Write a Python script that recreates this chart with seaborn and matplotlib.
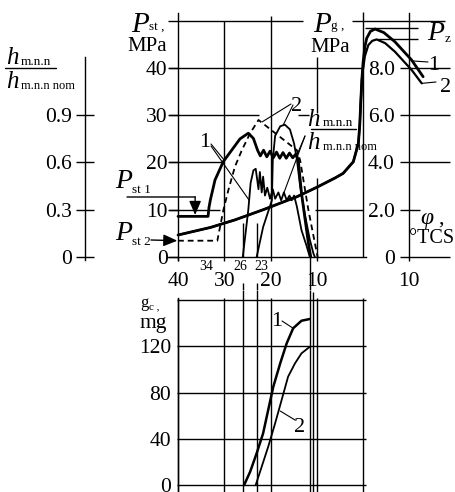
import numpy as np
import pandas as pd
import seaborn as sns
import matplotlib
matplotlib.use("Agg")
import matplotlib.pyplot as plt
from matplotlib.lines import Line2D

# ---------------- data (phi = crank angle, deg before TDC; negative = after TDC) ----------------
phi_pst1 = [40.0, 33.5, 33.3, 33.0, 32.0, 30.2, 28.4, 26.6, 24.8, 23.7, 22.8, 22.2, 21.5, 20.8,
            20.1, 19.4, 18.7, 18.0, 17.3, 16.6, 15.9, 15.2, 14.5, 14.0, 13.3, 12.5, 11.8, 11.3]
pst1 = [8.6, 8.6, 10.5, 12.1, 16.3, 20.2, 22.6, 25.0, 26.2, 25.1, 22.6, 21.4, 22.6, 21.2,
        22.4, 21.0, 22.2, 20.9, 22.1, 20.9, 22.0, 21.0, 21.8, 20.5, 13.5, 7.8, 2.9, 0.0]

phi_pst2 = [40.0, 31.5, 30.2, 29.1, 27.7, 26.2, 24.4, 22.6, 14.3, 13.6, 11.8, 10.4, 9.8]
pst2 = [3.45, 3.45, 9.9, 14.2, 19.1, 22.6, 26.2, 29.0, 22.6, 20.5, 9.9, 2.9, 0.0]

phi_h1 = [26.0, 24.8, 24.3, 23.7, 23.2, 22.6, 22.3, 21.9, 21.6, 21.2, 20.7, 20.1, 19.5,
          19.0, 18.3, 17.7, 17.1, 16.5, 15.9, 15.4, 14.9, 14.3, 13.3, 12.2, 11.7, 11.5]
h1 = [0.0, 0.30, 0.47, 0.55, 0.56, 0.43, 0.54, 0.41, 0.51, 0.39, 0.44, 0.37, 0.43,
      0.37, 0.41, 0.36, 0.41, 0.36, 0.39, 0.36, 0.39, 0.32, 0.17, 0.07, 0.02, 0.0]

phi_h2 = [23.0, 21.6, 19.7, 19.5, 19.0, 17.9, 16.9, 15.8, 14.9, 14.3, 13.6, 12.5, 11.5, 10.7, 10.4]
h2 = [0.0, 0.19, 0.36, 0.62, 0.77, 0.83, 0.84, 0.81, 0.72, 0.62, 0.45, 0.26, 0.11, 0.02, 0.0]

phi_pg1 = [40.0, 33.0, 27.7, 21.6, 14.3, 10.0, 6.0, 4.3, 2.1, 1.0, 0.7, 0.5, 0.25,
           0.0, -0.4, -0.8, -1.6, -2.6, -4.5, -6.9, -10.5, -13.0]
pg1 = [0.93, 1.25, 1.57, 2.0, 2.55, 2.95, 3.35, 3.54, 4.03, 4.81, 5.6, 6.5, 7.5,
       8.2, 8.9, 9.26, 9.55, 9.65, 9.5, 9.11, 8.34, 7.63]
phi_pg2 = [40.0, 33.0, 27.7, 21.6, 14.3, 10.0, 6.0, 4.3, 2.1, 1.0, 0.7, 0.5, 0.25,
           0.1, -0.4, -1.15, -2.0, -2.96, -4.8, -6.9, -10.5, -12.7]
pg2 = [0.93, 1.25, 1.57, 2.0, 2.55, 2.95, 3.35, 3.54, 4.03, 4.81, 5.6, 6.5, 7.5,
       7.8, 8.5, 8.97, 9.15, 9.21, 9.05, 8.69, 7.92, 7.35]
pz1, pz2 = 9.71, 9.21

phi_gc1 = [25.7, 24.4, 23.0, 21.6, 20.5, 19.4, 17.9, 16.5, 15.1, 13.3, 11.5]
gc1 = [0.0, 11.5, 27.4, 44.7, 64.9, 85.0, 105.3, 122.6, 135.6, 142.1, 143.6]
phi_gc2 = [23.2, 21.9, 20.5, 19.0, 17.6, 16.2, 14.7, 13.3, 11.5]
gc2 = [0.0, 15.9, 33.1, 53.4, 73.5, 93.7, 105.3, 113.9, 119.6]

phi_marks = [34, 26, 23]
phi_inj_end = [11.5, 10.9]

pst_ticks = [0, 10, 20, 30, 40]
pg_ticks = [0, 2, 4, 6, 8]
pg_labels = ["0", "2.0", "4.0", "6.0", "8.0"]
h_ticks = [0, 0.3, 0.6, 0.9]
h_labels = ["0", "0.3", "0.6", "0.9"]
gc_ticks = [0, 40, 80, 120]
gc_grid = [0, 40, 80, 120, 160]
phi_ticks = [40, 30, 20, 10, -10]
phi_labels = ["40", "30", "20", "10", "10"]
phi_grid = [40, 30, 20, 10, 0]

# ---------------- style ----------------
sns.set_theme(style="ticks", rc={"axes.edgecolor": "black", "xtick.color": "black",
                                 "ytick.color": "black", "text.color": "black"})
SERIF = ["Liberation Serif", "DejaVu Serif"]
plt.rcParams["font.family"] = SERIF
FS = 15.5
K = "black"
GLW = 1.0

W, H = 455, 492
fig = plt.figure(figsize=(W / 100, H / 100), dpi=100)
fig.patch.set_facecolor("white")
SPLIT = 290
XL = (78.49, -19.89)

ax = fig.add_axes([0, (H - SPLIT) / H, 1, SPLIT / H])
ax.set_facecolor("none")
PL = (-6.984, 54.39)
ax2 = ax.twinx()
ax3 = ax.twinx()
bx = fig.add_axes([0, 0, 1, (H - SPLIT) / H])
bx.set_facecolor("none")

def curve(a, xs, ys, lw, dashed=False):
    sns.lineplot(x=np.array(xs), y=np.array(ys), ax=a, sort=False, estimator=None,
                 color=K, linewidth=lw, legend=False)
    ln = a.get_lines()[-1]
    ln.set_solid_joinstyle("round")
    if dashed:
        ln.set_dashes([3.2, 2.2])

# ---------------- top panel curves ----------------
curve(ax, phi_pst1, pst1, 2.0)
curve(ax, phi_pst2, pst2, 1.3, dashed=True)
curve(ax3, phi_h1, h1, 1.3)
curve(ax3, phi_h2, h2, 1.3)
curve(ax2, phi_pg1, pg1, 2.0)
curve(ax2, phi_pg2, pg2, 1.6)

for a in (ax, ax2, ax3, bx):
    a.set_xlim(*XL)
    a.set_xlabel(""); a.set_ylabel("")
ax.set_ylim(*PL)
ax2.set_ylim(PL[0] / 5, PL[1] / 5)
ax3.set_ylim(PL[0] * 0.03, PL[1] * 0.03)
bx.set_ylim(-6.055, 168.69)

# grid of the upper panel
ax.hlines(50, 42.1, 12.9, color=K, lw=GLW)
ax.hlines(50, 2.3, -17.7, color=K, lw=GLW)
ax.hlines(40, 42.1, 0, color=K, lw=GLW)
ax.hlines(30, 42.1, 22.4, color=K, lw=GLW)
ax.hlines(30, 14.0, 11.6, color=K, lw=GLW)
ax.hlines(20, 42.1, 30, color=K, lw=GLW)
ax.hlines(10, 42.1, 31, color=K, lw=GLW)
ax.hlines(10, 10.4, 0, color=K, lw=GLW)
ax.vlines(30, 0, 50, color=K, lw=GLW)
ax.vlines(20, 0, 51, color=K, lw=GLW)
ax.vlines(10, 30.5, 42.3, color=K, lw=GLW)
ax.vlines(10, 0, 16.7, color=K, lw=GLW)
ax.vlines(0, 0, 51.8, color=K, lw=GLW)
ax.vlines(phi_marks[1:], 0, 7.2, color=K, lw=GLW)
ax.vlines(phi_marks[1:], PL[0], -5.5, color=K, lw=GLW)
ax.vlines(phi_inj_end[0], PL[0], 0, color=K, lw=GLW)
ax2.hlines([0, 4, 6, 8], -8.0, -18.8, color=K, lw=GLW)
ax2.hlines([2], -8.0, -12.3, color=K, lw=GLW)
ax2.hlines(pz1, -0.4, -11.9, color=K, lw=GLW)
ax2.hlines(pz2, -3.2, -11.9, color=K, lw=GLW)

# axes / spines
for s in ("top", "right"):
    ax.spines[s].set_visible(False)
ax.spines["left"].set_position(("data", 40))
ax.spines["left"].set_bounds(-0.6, 51.6)
ax.spines["bottom"].set_position(("data", 0))
ax.spines["bottom"].set_bounds(-0.6, 42.1)
for s in ax.spines.values():
    s.set_linewidth(GLW)
ax.set_yticks(pst_ticks)
ax.set_yticklabels([str(v) for v in pst_ticks])
ax.set_xticks(phi_ticks)
ax.set_xticklabels(phi_labels)
ax.tick_params(axis="y", direction="out", length=6.5, width=GLW, pad=1, labelsize=FS)
ax.tick_params(axis="x", direction="out", length=3, width=GLW, pad=8, labelsize=FS)

for s in ("top", "right", "bottom"):
    ax2.spines[s].set_visible(False)
ax2.spines["left"].set_visible(True)
ax2.spines["left"].set_position(("data", -10))
ax2.spines["left"].set_bounds(0, 10.32)
ax2.spines["left"].set_linewidth(GLW)
ax2.yaxis.set_ticks_position("left")
ax2.set_yticks(pg_ticks)
ax2.set_yticklabels(pg_labels)
ax2.tick_params(axis="y", left=True, right=False, labelleft=True, labelright=False,
                length=0, pad=10.5, labelsize=FS)

for s in ("top", "right", "bottom"):
    ax3.spines[s].set_visible(False)
ax3.spines["left"].set_visible(True)
ax3.spines["left"].set_position(("data", 60.1))
ax3.spines["left"].set_bounds(-0.02, 1.27)
ax3.spines["left"].set_linewidth(GLW)
ax3.yaxis.set_ticks_position("left")
ax3.set_yticks(h_ticks)
ax3.set_yticklabels(h_labels)
ax3.tick_params(axis="y", left=True, right=False, labelleft=True, labelright=False,
                direction="inout", length=13, width=GLW, pad=3, labelsize=FS)

# ---------------- lower panel ----------------
curve(bx, phi_gc1, gc1, 1.8)
curve(bx, phi_gc2, gc2, 1.3)
bx.set_xlim(*XL)
bx.set_ylim(-6.055, 168.69)
bx.hlines(gc_grid, 40.3, -0.7, color=K, lw=GLW)
bx.vlines(phi_grid, -6.055, 161.5, color=K, lw=GLW)
bx.vlines(phi_marks[1:], -6.055, 168.69, color=K, lw=GLW)
bx.vlines(phi_inj_end[0], -6.055, 168.69, color=K, lw=GLW)
bx.vlines(phi_inj_end[1], -6.055, 167, color=K, lw=GLW)
for s in ("top", "right", "bottom"):
    bx.spines[s].set_visible(False)
bx.spines["left"].set_position(("data", 40))
bx.spines["left"].set_bounds(-6.055, 161.5)
bx.spines["left"].set_linewidth(GLW)
bx.set_xticks([])
bx.set_yticks(gc_ticks)
bx.set_yticklabels([str(v) for v in gc_ticks])
bx.tick_params(axis="y", length=0, pad=5, labelsize=FS)

# ---------------- texts ----------------
def ftext(x, y, s, size, style="normal", ha="left", va="baseline"):
    fig.text(x / W, 1 - y / H, s, fontsize=size, style=style, ha=ha, va=va, family=SERIF)

def fline(x1, y1, x2, y2, lw=1.0):
    fig.add_artist(Line2D([x1 / W, x2 / W], [1 - y1 / H, 1 - y2 / H],
                          transform=fig.transFigure, color=K, lw=lw))

def leader(a, xy, px, py, lw=0.8):
    a.annotate("", xy=xy, xycoords="data", xytext=(px, H - py), textcoords="figure pixels",
               arrowprops=dict(arrowstyle="-", lw=lw, color=K, shrinkA=0, shrinkB=0))

# P_st, MPa
ftext(131, 32, "P", 21, style="italic")
ftext(149, 30, "st ,", 9.5)
ftext(147, 51, "MPa", 15, ha="center")
# P_g, MPa
ftext(313, 32, "P", 21, style="italic")
ftext(331, 29, "g ,", 9.5)
ftext(330, 52, "MPa", 15, ha="center")
# P_z
ftext(427, 40, "P", 20, style="italic")
ftext(445, 42, "z", 9.5)
# left h fraction
ftext(6, 64, "h", 18, style="italic")
ftext(21, 65, "m.n.n", 9.5)
fline(5, 68, 56, 68)
ftext(6, 88, "h", 18, style="italic")
ftext(21, 89, "m.n.n nom", 9)
# right h fraction
ftext(307, 126, "h", 18, style="italic")
ftext(323, 126, "m.n.n", 9.5)
fline(311, 129, 356, 129)
ftext(307, 149, "h", 18, style="italic")
ftext(323, 150, "m.n.n nom", 9)
# phi, deg TCS
ftext(420, 224, "φ", 17, style="italic")
ftext(438, 224, ",", 16)
ftext(432, 243, "°TCS", 14.5, ha="center")
# small angle marks
for v, dx in zip(phi_marks, [0, -1.5, 3.5]):
    ax.annotate(str(v), xy=(v, 0), xycoords="data", xytext=(dx, -9.5),
                textcoords="offset points", ha="center", va="baseline", fontsize=10)
# P_st1 / P_st2
ftext(115, 188, "P", 20, style="italic")
ftext(132, 193, "st 1", 9.5)
ftext(115, 240, "P", 20, style="italic")
ftext(132, 245, "st 2", 9.5)
leader(ax, (36.3, 12.7), 127, 197, lw=1.0)
ax.annotate("", xy=(36.3, 8.9), xytext=(36.3, 12.75),
            arrowprops=dict(arrowstyle="-|>,head_length=0.7,head_width=0.3", lw=1.0,
                            color=K, shrinkA=0, shrinkB=0))
ax.annotate("", xy=(40.15, 3.45), xycoords="data", xytext=(151, H - 240),
            textcoords="figure pixels",
            arrowprops=dict(arrowstyle="-|>,head_length=0.7,head_width=0.3", lw=1.0,
                            color=K, shrinkA=0, shrinkB=0))
# curve labels, upper panel
ftext(205, 147, "1", 16, ha="center")
leader(ax, (30.0, 20.5), 211, 144)
leader(ax3, (24.6, 0.36), 211, 146)
ftext(297, 111, "2", 16, ha="center")
leader(ax, (21.8, 28.6), 291, 104)
leader(ax3, (17.3, 0.835), 293, 105)
leader(ax3, (14.4, 0.64), 305, 136)
leader(ax3, (17.2, 0.40), 305, 136)
ftext(434, 70, "1", 16, ha="center")
leader(ax2, (-10.6, 8.3), 428, 62)
ftext(446, 92, "2", 16, ha="center")
leader(ax2, (-12.7, 7.35), 436, 82)
# lower panel labels
ftext(140, 307, "g", 12)
ftext(149, 309, "c ,", 8)
ftext(140, 328, "mg", 15.5)
ftext(277, 326, "1", 16, ha="center")
leader(bx, (15.1, 135.6), 282, 321)
ftext(300, 432, "2", 16, ha="center")
leader(bx, (17.9, 64.0), 295, 420)

fig.savefig("out.png", dpi=100, facecolor="white")
